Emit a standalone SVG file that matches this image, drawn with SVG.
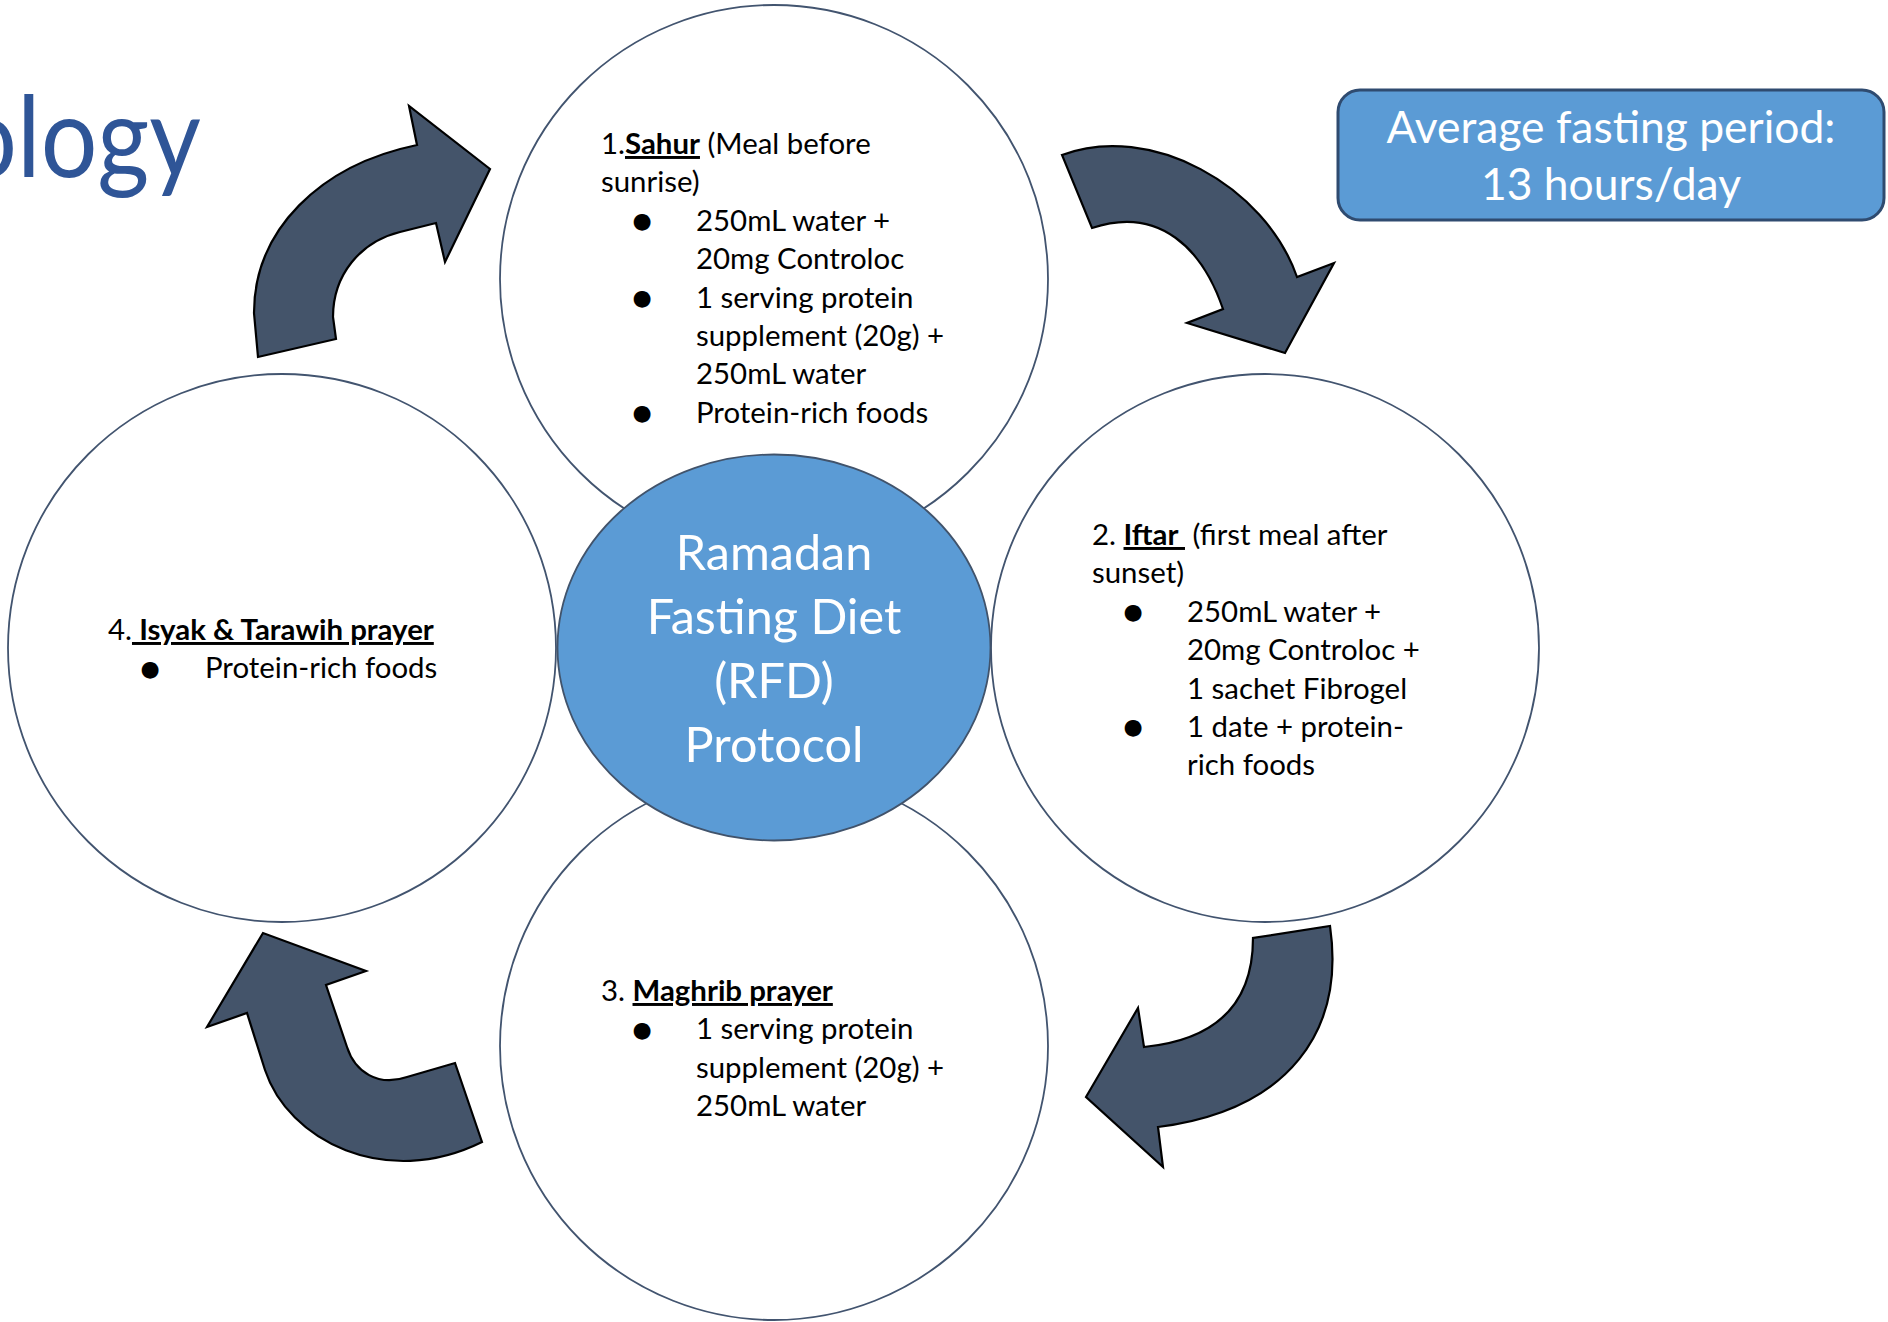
<svg xmlns="http://www.w3.org/2000/svg" width="1888" height="1322" viewBox="0 0 1888 1322">
<style>
.ring{fill:#fff;stroke:#42546F;stroke-width:1.8}
.body{font-family:Lato,"Liberation Sans",sans-serif;font-size:29.4px;fill:#000;white-space:pre}
.u{font-weight:bold;text-decoration:underline}
.bul{font-family:"DejaVu Sans",sans-serif;font-size:22px;text-anchor:middle;fill:#000}
.arrow{fill:#44546A;stroke:#000;stroke-width:2.2;stroke-linejoin:miter}
.wt{font-family:Lato,"Liberation Sans",sans-serif;fill:#fff;text-anchor:middle}
</style>
<rect width="1888" height="1322" fill="#fff"/>
<text id="title" x="201" y="177" transform="matrix(0.894 0 0 1 21.2 0)" font-family="Lato,'Liberation Sans',sans-serif" font-size="112" fill="#2F5597" text-anchor="end">ology</text>

<g id="node-sahur">
<circle class="ring" cx="774" cy="279" r="274"/>
<text class="body" xml:space="preserve" x="601" y="154">1.<tspan class="u">Sahur</tspan> (Meal before</text>
<text class="body" x="601" y="192.4">sunrise)</text>
<text class="bul" x="642" y="228">●</text>
<text class="body" x="696" y="230.8">250mL water +</text>
<text class="body" x="696" y="269.2">20mg Controloc</text>
<text class="bul" x="642" y="304.8">●</text>
<text class="body" x="696" y="307.6">1 serving protein</text>
<text class="body" x="696" y="346">supplement (20g) +</text>
<text class="body" x="696" y="384.4">250mL water</text>
<text class="bul" x="642" y="420">●</text>
<text class="body" x="696" y="422.8">Protein-rich foods</text>
</g>

<g id="node-iftar">
<circle class="ring" cx="1265" cy="648" r="274"/>
<text class="body" xml:space="preserve" x="1092" y="545">2. <tspan class="u">Iftar </tspan> (first meal after</text>
<text class="body" x="1092" y="583.4">sunset)</text>
<text class="bul" x="1133" y="619">●</text>
<text class="body" x="1187" y="621.8">250mL water +</text>
<text class="body" x="1187" y="660.2">20mg Controloc +</text>
<text class="body" x="1187" y="698.6">1 sachet Fibrogel</text>
<text class="bul" x="1133" y="734.2">●</text>
<text class="body" x="1187" y="737">1 date + protein-</text>
<text class="body" x="1187" y="775.4">rich foods</text>
</g>

<g id="node-maghrib">
<circle class="ring" cx="774" cy="1046" r="274"/>
<text class="body" xml:space="preserve" x="601" y="1001">3. <tspan class="u">Maghrib prayer</tspan></text>
<text class="bul" x="642" y="1036.6">●</text>
<text class="body" x="696" y="1039.4">1 serving protein</text>
<text class="body" x="696" y="1077.8">supplement (20g) +</text>
<text class="body" x="696" y="1116.2">250mL water</text>
</g>

<g id="node-isyak">
<circle class="ring" cx="282" cy="648" r="274"/>
<text class="body" xml:space="preserve" x="108" y="640">4.<tspan class="u"> Isyak &amp; Tarawih prayer</tspan></text>
<text class="bul" x="150" y="675.6">●</text>
<text class="body" x="205" y="678.4">Protein-rich foods</text>
</g>

<g id="node-center">
<ellipse cx="774" cy="647.5" rx="216.5" ry="193" fill="#5B9BD5" stroke="#41536B" stroke-width="1.8"/>
<text class="wt" x="774" y="570" font-size="48.5">Ramadan</text>
<text class="wt" x="774" y="634" font-size="48.5">Fasting Diet</text>
<text class="wt" x="774" y="698" font-size="48.5">(RFD)</text>
<text class="wt" x="774" y="762" font-size="48.5">Protocol</text>
</g>

<g id="node-fasting-period">
<rect x="1338" y="90" width="546" height="130" rx="22" fill="#5B9BD5" stroke="#2F4B70" stroke-width="3"/>
<text class="wt" x="1611" y="143" font-size="44.4">Average fasting period:</text>
<text class="wt" x="1611" y="200" font-size="44.4">13 hours/day</text>
</g>

<g id="connectors">
<path class="arrow" d="M 258,357 L 254,313 C 254,230 320,165 417,145 L 409,106 L 490,169 L 445,262 L 436,223 L 400,232 C 360,242 333,275 333,317 L 336,339 Z"/>
<path class="arrow" d="M 1062,155 C 1150,122 1265,185 1297,277 L 1334,263 L 1285,353 L 1187,323 L 1223,309 C 1203,250 1160,205 1092,228 Z"/>
<path class="arrow" d="M 1330,926 C 1345,1030 1290,1110 1158,1127 L 1163,1167 L 1086,1097 L 1138,1008 L 1144,1047 C 1215,1040 1253,1005 1253,938 Z"/>
<path class="arrow" d="M 482,1142 L 455,1063 L 407,1077 C 378,1087 355,1072 347,1047 L 326,985 L 366,971 L 263,933 L 207,1027 L 247,1013 L 265,1070 C 288,1140 385,1190 482,1142 Z"/>
</g>
</svg>
